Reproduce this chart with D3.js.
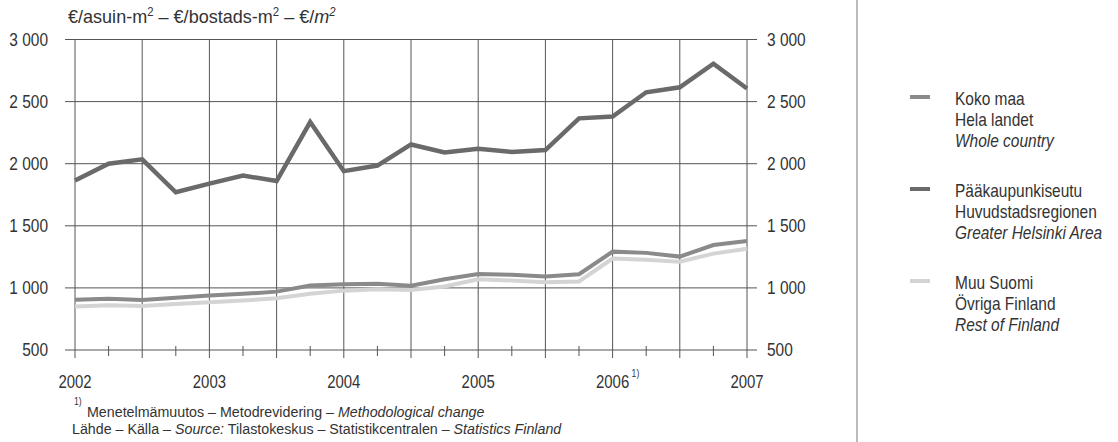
<!DOCTYPE html>
<html>
<head>
<meta charset="utf-8">
<script src="https://cdn.jsdelivr.net/npm/d3@7"></script>
<style>
  html, body { margin: 0; padding: 0; background: #fff; }
  svg { display: block; }
  text { font-family: 'Liberation Sans', Arial, sans-serif; fill: #333; }
</style>
</head>
<body>
<svg id="chart" width="1118" height="442"></svg>
<script>
// ---- data ----
const periods = ["2002Q1","2002Q2","2002Q3","2002Q4","2003Q1","2003Q2","2003Q3","2003Q4",
                 "2004Q1","2004Q2","2004Q3","2004Q4","2005Q1","2005Q2","2005Q3","2005Q4",
                 "2006Q1","2006Q2","2006Q3","2006Q4","2007Q1"];
const helsinki = [1865, 2000, 2035, 1770, 1840, 1905, 1860, 2335, 1940, 1985, 2155, 2090,
                  2120, 2095, 2110, 2365, 2380, 2575, 2615, 2805, 2605];
const wholeCountry = [905, 912, 903, 920, 938, 952, 970, 1020, 1030, 1033, 1018, 1070,
                      1112, 1105, 1092, 1110, 1292, 1282, 1252, 1345, 1378];
const restOfFinland = [850, 860, 855, 870, 885, 898, 917, 952, 978, 989, 984, 1012,
                       1070, 1060, 1045, 1052, 1236, 1226, 1210, 1276, 1316];
const yTicks = [500, 1000, 1500, 2000, 2500, 3000];
const yTickLabels = ["500", "1 000", "1 500", "2 000", "2 500", "3 000"];
const years = [2002, 2003, 2004, 2005, 2006, 2007];
const yearLabels = ["2002", "2003", "2004", "2005", "2006", "2007"];
const legendLabels = [
  ["Koko maa", "Hela landet", "Whole country"],
  ["Pääkaupunkiseutu", "Huvudstadsregionen", "Greater Helsinki Area"],
  ["Muu Suomi", "Övriga Finland", "Rest of Finland"]
];

// ---- layout ----
const svg = d3.select("#chart");
const toNum = p => +p.slice(0, 4) + (+p.slice(5) - 1) / 4;
const x = d3.scaleLinear().domain([2002, 2007]).range([75, 747]);
const y = d3.scaleLinear().domain([500, 3000]).range([350, 39.5]);
const gridColor = "#555";

function ctext(parent, px, py, size, anchor, sx) {
  return parent.append("text")
    .attr("transform", `translate(${px},${py}) scale(${sx || 0.86},1)`)
    .attr("font-size", size)
    .attr("text-anchor", anchor || "start");
}

// horizontal gridlines with outward ticks
svg.append("g").selectAll("line").data(yTicks).join("line")
  .attr("x1", 65).attr("x2", 757)
  .attr("y1", d => y(d)).attr("y2", d => y(d))
  .attr("stroke", gridColor).attr("stroke-width", 1);

// vertical half-year gridlines
const halfYears = d3.range(2002, 2007.01, 0.5);
svg.append("g").selectAll("line").data(halfYears).join("line")
  .attr("x1", d => x(d)).attr("x2", d => x(d))
  .attr("y1", y(3000)).attr("y2", y(500) + 8)
  .attr("stroke", gridColor).attr("stroke-width", 1);

// quarter ticks
const quarterTicks = periods.map(toNum).filter(v => (v * 4) % 2 === 1);
svg.append("g").selectAll("line").data(quarterTicks).join("line")
  .attr("x1", d => x(d)).attr("x2", d => x(d))
  .attr("y1", y(500) - 4).attr("y2", y(500) + 6)
  .attr("stroke", gridColor).attr("stroke-width", 1);

// y labels
const gy = svg.append("g");
yTicks.forEach((v, i) => {
  ctext(gy, 48, y(v), 18, "end", 0.86).attr("dy", "0.36em").text(yTickLabels[i]);
  ctext(gy, 767, y(v), 18, "start", 0.86).attr("dy", "0.36em").text(yTickLabels[i]);
});

// x labels
const gx = svg.append("g");
years.forEach((v, i) => {
  ctext(gx, x(v), 388, 18, "middle", 0.83).text(yearLabels[i]);
});
ctext(gx, x(2006) + 19, 377, 10).text("1)");

// lines
const line = d3.line().x((d, i) => x(toNum(periods[i]))).y(d => y(d));
const series = [
  { values: restOfFinland, color: "#d4d4d4", width: 4 },
  { values: wholeCountry, color: "#8a8a8a", width: 4 },
  { values: helsinki, color: "#6a6a6a", width: 4.5 }
];
svg.append("g").selectAll("path").data(series).join("path")
  .attr("d", d => line(d.values))
  .attr("fill", "none")
  .attr("stroke", d => d.color)
  .attr("stroke-width", d => d.width)
  .attr("stroke-linejoin", "miter");

// title with superscripts
const title = ctext(svg, 68, 23, 19, "start", 0.95);
const sup = (t, italic) => {
  title.append("tspan").attr("font-size", 12).attr("dy", -7)
    .attr("font-style", italic ? "italic" : "normal").text(t);
};
title.append("tspan").text("€/asuin-m");
sup("2");
title.append("tspan").attr("dy", 7).text(" – €/bostads-m");
sup("2");
title.append("tspan").attr("dy", 7).text(" – €/");
title.append("tspan").attr("font-style", "italic").text("m");
sup("2", true);

// separator
svg.append("line").attr("x1", 857).attr("x2", 857).attr("y1", 0).attr("y2", 442)
  .attr("stroke", "#777").attr("stroke-width", 1);

// legend
const legendColors = ["#8a8a8a", "#6a6a6a", "#d4d4d4"];
const legendTop = [99, 191, 283];
const lg = svg.append("g");
legendLabels.forEach((lines, gi) => {
  lg.append("line").attr("x1", 910).attr("x2", 930)
    .attr("y1", legendTop[gi] - 2).attr("y2", legendTop[gi] - 2)
    .attr("stroke", legendColors[gi]).attr("stroke-width", 4);
  lines.forEach((t, li) => {
    ctext(lg, 955, legendTop[gi] + li * 20.7, 18, "start", 0.86)
      .attr("dy", "0.36em")
      .attr("font-style", li === 2 ? "italic" : "normal")
      .text(t);
  });
});

// footnotes
ctext(svg, 74, 405, 10).text("1)");
const f1 = ctext(svg, 87, 417, 15.5, "start", 0.92);
f1.append("tspan").text("Menetelmämuutos – Metodrevidering – ");
f1.append("tspan").attr("font-style", "italic").text("Methodological change");
const f2 = ctext(svg, 72, 434, 15.5, "start", 0.92);
f2.append("tspan").text("Lähde – Källa – ");
f2.append("tspan").attr("font-style", "italic").text("Source:");
f2.append("tspan").text(" Tilastokeskus – Statistikcentralen – ");
f2.append("tspan").attr("font-style", "italic").text("Statistics Finland");
</script>
</body>
</html>
